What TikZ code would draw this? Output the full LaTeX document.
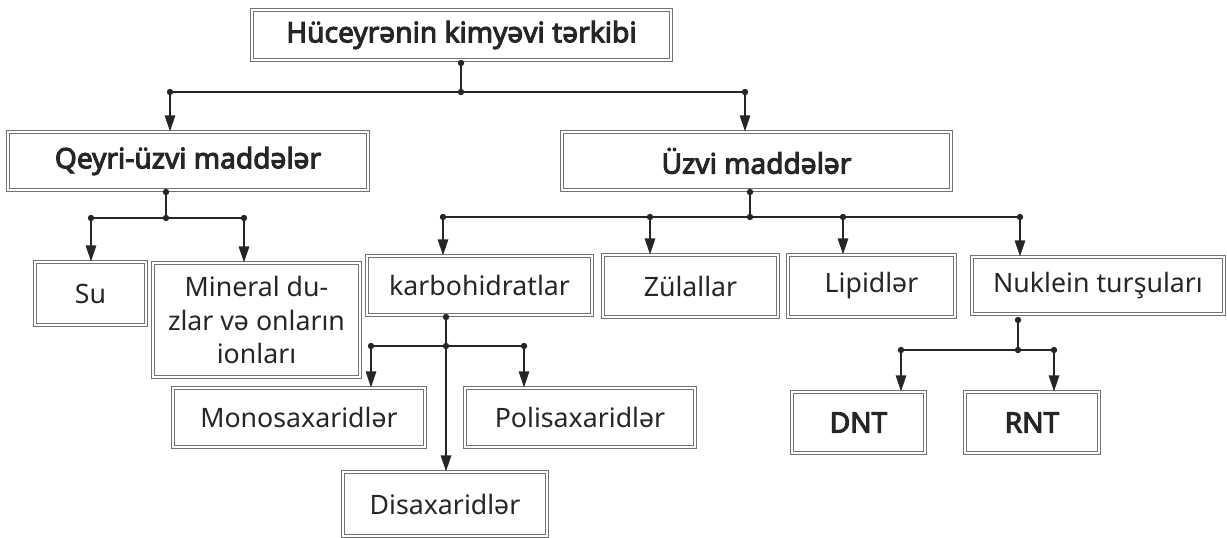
\documentclass[tikz,border=0pt]{standalone}
\usepackage{fontspec}
\setmainfont{Noto Sans}[AutoFakeBold=3.6]
\usetikzlibrary{arrows.meta}

\begin{document}
\begin{tikzpicture}[x=0.025cm, y=-0.025cm,
                  box/.style={draw=black!55, line width=0.8pt, double=white, double distance=1.3pt,
                              inner sep=0pt, align=center, text=black!85,
                              font=\fontsize{19}{24}\selectfont},
                  head/.style={box, font=\fontsize{20}{24}\selectfont\bfseries},
                  ln/.style={line width=1.1pt, black!85},
                  arr/.style={ln, -{Triangle[length=4mm, width=2.6mm]}},
                  dot/.style={fill=black!85},
            ]
            \useasboundingbox (0,0) rectangle (1227,538);
            % boxes
            \node[head, minimum width=419*0.025cm, minimum height=50*0.025cm] (top) at (461.5,35) {Hüceyrənin kimyəvi tərkibi};
            \node[head, minimum width=360*0.025cm, minimum height=58*0.025cm] (qeyri) at (188,161) {Qeyri-üzvi maddələr};
            \node[head, minimum width=389*0.025cm, minimum height=58*0.025cm] (uzvi) at (756.5,161) {Üzvi maddələr};
            \node[box, minimum width=111*0.025cm, minimum height=63*0.025cm] (su) at (90.5,293.5) {Su};
            \node[box, minimum width=207*0.025cm, minimum height=114*0.025cm] (min) at (256.5,320) {Mineral du-\\zlar və onların\\ionları};
            \node[box, minimum width=225*0.025cm, minimum height=59*0.025cm] (karb) at (479.5,285.5) {karbohidratlar};
            \node[box, minimum width=175*0.025cm, minimum height=62*0.025cm] (zul) at (690.5,286) {Zülallar};
            \node[box, minimum width=167*0.025cm, minimum height=62*0.025cm] (lip) at (871.5,286) {Lipidlər};
            \node[box, minimum width=252*0.025cm, minimum height=57*0.025cm] (nuk) at (1098,285.5) {Nuklein turşuları};
            \node[box, minimum width=252*0.025cm, minimum height=59*0.025cm] (mono) at (299,417.5) {Monosaxaridlər};
            \node[box, minimum width=230*0.025cm, minimum height=59*0.025cm] (poli) at (580,417.5) {Polisaxaridlər};
            \node[box, minimum width=204*0.025cm, minimum height=64*0.025cm] (disa) at (445,504) {Disaxaridlər};
            \node[head, minimum width=133*0.025cm, minimum height=61*0.025cm] (dnt) at (858.5,422.5) {DNT};
            \node[head, minimum width=134*0.025cm, minimum height=61*0.025cm] (rnt) at (1032,422.5) {RNT};

            % junctions
            \coordinate (t0) at (461,63);   \coordinate (tj) at (461,92);
            \coordinate (ta) at (170,92);   \coordinate (tb) at (745,92);
            \coordinate (q0) at (166,192);  \coordinate (qj) at (166,218);
            \coordinate (qa) at (91,218);   \coordinate (qb) at (244,218);
            \coordinate (u0) at (750,192);  \coordinate (uj) at (750,217);
            \coordinate (ua) at (443,217);  \coordinate (ub) at (650,217);
            \coordinate (uc) at (843,217);  \coordinate (ud) at (1020,217);
            \coordinate (k0) at (446,317);  \coordinate (kj) at (446,346);
            \coordinate (ka) at (371,346);  \coordinate (kb) at (524,346);
            \coordinate (n0) at (1018,320); \coordinate (nj) at (1018,350);
            \coordinate (na) at (901,350);  \coordinate (nb) at (1054,350);

            \draw[ln] (t0) -- (tj) (ta) -- (tb);
            \draw[arr] (ta) -- (ta |- qeyri.north);
            \draw[arr] (tb) -- (tb |- uzvi.north);

            \draw[ln] (q0) -- (qj) (qa) -- (qb);
            \draw[arr] (qa) -- (qa |- su.north);
            \draw[arr] (qb) -- (qb |- min.north);

            \draw[ln] (u0) -- (uj) (ua) -- (ud);
            \draw[arr] (ua) -- (ua |- karb.north);
            \draw[arr] (ub) -- (ub |- zul.north);
            \draw[arr] (uc) -- (uc |- lip.north);
            \draw[arr] (ud) -- (ud |- nuk.north);

            \draw[ln] (k0) -- (kj) (ka) -- (kb);
            \draw[arr] (ka) -- (ka |- mono.north);
            \draw[arr] (kb) -- (kb |- poli.north);
            \draw[arr] (kj) -- (kj |- disa.north);

            \draw[ln] (n0) -- (nj) (na) -- (nb);
            \draw[arr] (na) -- (na |- dnt.north);
            \draw[arr] (nb) -- (nb |- rnt.north);

            \foreach \p in {t0,tj,ta,tb,q0,qj,qa,qb,u0,uj,ua,ub,uc,ud,k0,kj,ka,kb,n0,nj,na,nb}
                  \fill[dot] (\p) circle (3.2);
      \end{tikzpicture}
\end{document}
